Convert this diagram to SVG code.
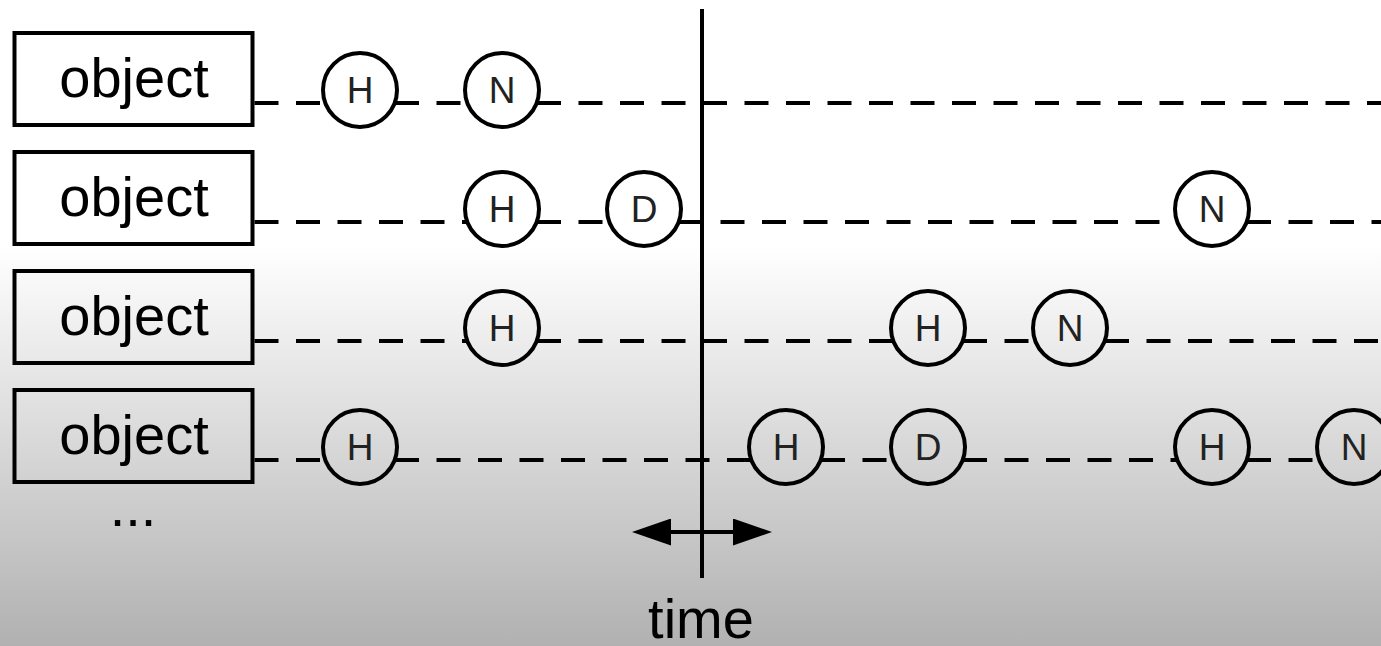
<svg xmlns="http://www.w3.org/2000/svg" width="1381" height="646" viewBox="0 0 1381 646">
  <defs>
    <linearGradient id="bg" gradientUnits="userSpaceOnUse" x1="0" y1="0" x2="0" y2="646">
      <stop offset="0" stop-color="#ffffff"/>
      <stop offset="0.38" stop-color="#ffffff"/>
      <stop offset="1" stop-color="#b1b1b1"/>
    </linearGradient>
    <marker id="ah" viewBox="0 0 39 27" refX="31" refY="13.5" markerWidth="39" markerHeight="27" markerUnits="userSpaceOnUse" orient="auto-start-reverse">
      <path d="M0,0 L39,13.5 L0,27 z" fill="#000"/>
    </marker>
    <style>
      .box { fill: none; stroke: #000; stroke-width: 4; }
      .lbl { font-family: "Liberation Sans", Arial, sans-serif; font-size: 56px; text-anchor: middle; fill: #000; }
      .ev circle { fill: none; stroke: #000; stroke-width: 4; }
      .ev text { font-family: "Liberation Sans", Arial, sans-serif; font-size: 37px; text-anchor: middle; fill: #222; }
      .dash { stroke: #000; stroke-width: 4; stroke-dasharray: 24 17.5; fill: none; }
      .solid { stroke: #000; stroke-width: 4; fill: none; }
    </style>
  </defs>
  <rect x="0" y="0" width="1381" height="646" fill="url(#bg)"/>

  <g id="connectors">
    <!-- row 1 -->
    <line class="dash" x1="254.5" y1="103" x2="325" y2="103"/>
    <line class="dash" x1="395" y1="103" x2="467" y2="103"/>
    <line class="dash" x1="537" y1="103" x2="1381" y2="103"/>
    <!-- row 2 -->
    <line class="dash" x1="254.5" y1="222" x2="467" y2="222"/>
    <line class="dash" x1="537" y1="222" x2="609" y2="222"/>
    <line class="dash" x1="679" y1="222" x2="1177" y2="222"/>
    <line class="dash" x1="1247" y1="222" x2="1381" y2="222"/>
    <!-- row 3 -->
    <line class="dash" x1="254.5" y1="341" x2="467" y2="341"/>
    <line class="dash" x1="537" y1="341" x2="893" y2="341"/>
    <line class="dash" x1="963" y1="341" x2="1035" y2="341"/>
    <line class="dash" x1="1105" y1="341" x2="1381" y2="341"/>
    <!-- row 4 -->
    <line class="dash" x1="254.5" y1="460" x2="325" y2="460"/>
    <line class="dash" x1="395" y1="460" x2="751" y2="460"/>
    <line class="dash" x1="821" y1="460" x2="893" y2="460"/>
    <line class="dash" x1="963" y1="460" x2="1177" y2="460"/>
    <line class="dash" x1="1247" y1="460" x2="1319" y2="460"/>
  </g>

  <g id="object1"><rect class="box" x="14.5" y="33" width="238" height="92"/><text class="lbl" x="134" y="97">object</text></g>
  <g id="object2"><rect class="box" x="14.5" y="152" width="238" height="92"/><text class="lbl" x="134" y="216">object</text></g>
  <g id="object3"><rect class="box" x="14.5" y="271" width="238" height="92"/><text class="lbl" x="134" y="335">object</text></g>
  <g id="object4"><rect class="box" x="14.5" y="390" width="238" height="92"/><text class="lbl" x="134" y="454">object</text></g>
  <g id="more"><text class="lbl" x="133" y="526">...</text></g>

  <g id="r1-H" class="ev"><circle cx="360" cy="90" r="37"/><text x="360" y="103">H</text></g>
  <g id="r1-N" class="ev"><circle cx="502" cy="90" r="37"/><text x="502" y="103">N</text></g>

  <g id="r2-H" class="ev"><circle cx="502" cy="209" r="37"/><text x="502" y="222">H</text></g>
  <g id="r2-D" class="ev"><circle cx="644" cy="209" r="37"/><text x="644" y="222">D</text></g>
  <g id="r2-N" class="ev"><circle cx="1212" cy="209" r="37"/><text x="1212" y="222">N</text></g>

  <g id="r3-H1" class="ev"><circle cx="502" cy="328" r="37"/><text x="502" y="341">H</text></g>
  <g id="r3-H2" class="ev"><circle cx="928" cy="328" r="37"/><text x="928" y="341">H</text></g>
  <g id="r3-N" class="ev"><circle cx="1070" cy="328" r="37"/><text x="1070" y="341">N</text></g>

  <g id="r4-H1" class="ev"><circle cx="360" cy="447" r="37"/><text x="360" y="460">H</text></g>
  <g id="r4-H2" class="ev"><circle cx="786" cy="447" r="37"/><text x="786" y="460">H</text></g>
  <g id="r4-D" class="ev"><circle cx="928" cy="447" r="37"/><text x="928" y="460">D</text></g>
  <g id="r4-H3" class="ev"><circle cx="1212" cy="447" r="37"/><text x="1212" y="460">H</text></g>
  <g id="r4-N" class="ev"><circle cx="1354" cy="447" r="37"/><text x="1354" y="460">N</text></g>

  <g id="now">
    <line class="solid" x1="702" y1="9" x2="702" y2="578"/>
    <line class="solid" x1="640" y1="532" x2="764" y2="532" marker-start="url(#ah)" marker-end="url(#ah)"/>
    <text class="lbl" x="701" y="638">time</text>
  </g>
</svg>
